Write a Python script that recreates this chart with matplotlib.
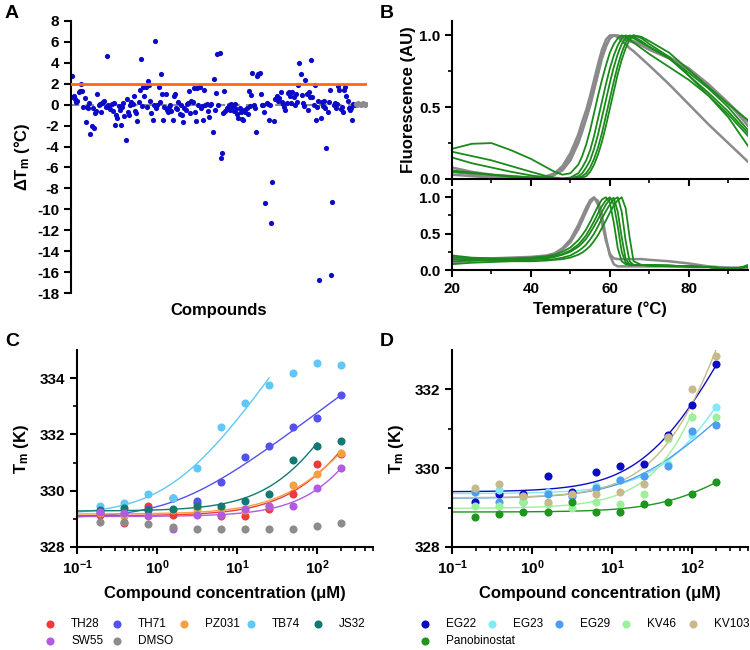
import numpy as np
import matplotlib.pyplot as plt
from matplotlib.ticker import FixedLocator, NullFormatter, LogLocator, FixedFormatter

plt.rcParams['font.family'] = ['Liberation Sans', 'DejaVu Sans']
plt.rcParams['font.weight'] = 'bold'
plt.rcParams['axes.labelweight'] = 'bold'
plt.rcParams['axes.unicode_minus'] = False
plt.rcParams['mathtext.fontset'] = 'custom'
plt.rcParams['mathtext.rm'] = 'Liberation Sans:bold'
plt.rcParams['mathtext.bf'] = 'Liberation Sans:bold'
plt.rcParams['mathtext.it'] = 'Liberation Sans:bold'

# ---- panel A: delta Tm of screened compounds ----
dtm = [2.7, 0.7, 0.8, 0.5, 0.3, 0.4, 1.2, 1.3, 2.0, 1.3, -0.2, 0.6, -1.7, -0.2, -0.3, 0.2, -2.8, -2.0,
       -0.3, -2.2, -0.8, -0.6, 1.0, 0.0, 0.1, -0.7, 0.2, 0.3, 0.4, -0.2, 4.7, 0.0, -0.2, -0.4, 0.1,
       -0.6, 0.2, -1.9, -1.0, -1.3, -0.1, -0.5, -1.9, -0.2, 0.2, -1.1, -3.4, 0.5, -0.7, -1.0, 0.0,
       0.3, 0.1, 0.8, -0.6, -0.8, -1.6, 0.3, 1.4, 4.4, -0.1, 1.7, 0.8, 1.7, -0.2, 2.3, 1.9, 0.4,
       -0.8, -1.5, 0.0, 6.1, -0.3, 0.0, 1.7, 0.3, 2.9, 1.0, -1.5, -0.2, 1.0, -0.5, -0.7, -0.2, 0.0,
       -0.6, -1.5, 0.8, 1.0, -0.3, -0.4, 0.3, -0.9, 0.0, -1.0, -1.7, -0.3, -0.5, 0.1, 0.2, 1.3, -0.8,
       0.4, 0.3, 1.6, -0.7, -1.6, 1.6, 0.0, 1.7, -0.3, -0.1, -1.5, 1.4, 0.0, 0.1, -0.6, -1.2, 0.0,
       0.1, -2.6, 2.5, -0.5, 1.1, 4.8, 0.0, 4.9, -5.1, -4.6, -0.8, 1.3, -0.6, -0.3, -0.4, 0.0, -0.5,
       0.1, -0.2, -0.6, 0.1, -0.4, -0.9, -1.3, -0.3, -0.7, -1.4, -1.5, -0.5, -0.7, -0.3, -0.9, 1.3,
       -0.1, 0.9, 3.0, 0.0, -0.3, -2.6, 2.7, 2.9, 3.0, 1.0, 0.0, 0.0, -0.7, -9.4, 0.2, 0.1, -1.5,
       0.0, -11.3, -7.4, -1.6, 0.5, 0.5, 0.8, 0.4, 0.6, 1.2, 0.3, 0.1, -0.2, -0.5, 0.2, 1.1, 1.2,
       0.8, 0.2, 1.2, 0.7, 0.0, 1.0, 0.3, 1.9, 4.0, 2.9, 0.9, 0.2, -0.1, 2.4, 1.0, -0.5, 1.2, 0.7,
       4.3, 0.7, 0.0, 1.9, -1.5, -0.2, 0.4, -16.8, -1.3, 0.3, -0.1, 0.4, -0.3, -4.1, -0.7, 0.3, 1.4,
       -16.3, -9.3, 0.0, 0.2, -0.3, 0.1, 1.8, 1.4, -0.4, -0.2, -0.7, 1.4, 1.7, 0.8, 0.4, -0.3, -0.5,
       -0.3, -1.5, 0.1, 0.0]
dmso_a = [0.1, 0.0, 0.2, 0.1, 0.0, 0.1, 0.2, 0.1, 0.0, 0.1]
hit_cutoff = 2.0

# ---- panel B: melting curves ----
temp_top = [20, 25, 30, 35, 40, 44, 46, 48, 50, 52, 53, 54, 55, 56, 57, 58, 59, 60, 61, 62, 63, 64,
            65, 66, 68, 70, 75, 80, 85, 90, 95]
top_gray = [
    [.08, .05, .03, .02, .01, .02, .04, .09, .18, .31, .40, .48, .58, .69, .80, .90, .97, 1.0, 1.0, .99,
     .98, .97, .96, .95, .93, .90, .84, .76, .65, .53, .40],
    [.05, .035, .02, .01, .005, .01, .03, .07, .15, .27, .35, .43, .52, .63, .74, .85, .93, .98, 1.0, 1.0,
     .99, .98, .97, .96, .94, .91, .85, .77, .66, .53, .37],
    [.03, .02, .01, .005, 0, .01, .03, .06, .13, .25, .33, .42, .51, .62, .73, .84, .92, .98, 1.0, .99,
     .96, .94, .91, .89, .84, .79, .66, .52, .38, .25, .12],
]
top_green = [
    [.21, .245, .25, .20, .14, .08, .05, .03, .04, .10, .16, .24, .34, .46, .58, .69, .79, .88, .94, .98,
     1.0, .99, .97, .95, .91, .87, .78, .69, .58, .45, .30],
    [.19, .16, .13, .09, .05, .02, .01, .005, .01, .04, .08, .13, .20, .30, .42, .54, .66, .77, .86, .93,
     .98, 1.0, .99, .98, .95, .92, .84, .74, .63, .50, .34],
    [.15, .11, .08, .05, .025, .01, .005, 0, .005, .02, .04, .08, .13, .21, .31, .43, .55, .67, .78, .87,
     .94, .98, 1.0, .99, .96, .92, .84, .72, .60, .47, .32],
    [.06, .045, .03, .02, .01, .005, 0, 0, 0, .01, .02, .04, .08, .14, .22, .32, .44, .56, .68, .79,
     .88, .95, .99, 1.0, .98, .94, .85, .72, .58, .43, .23],
    [.05, .04, .03, .015, .01, 0, 0, 0, 0, .005, .01, .02, .05, .10, .17, .26, .37, .49, .61, .73,
     .83, .91, .97, 1.0, .99, .96, .88, .76, .64, .52, .41],
]

temp_bot = [20, 25, 30, 35, 40, 44, 46, 48, 50, 52, 53, 54, 55, 56, 57, 58, 59, 60, 61, 62, 63, 64,
            65, 66, 68, 70, 75, 80, 85, 90, 93, 95]
bot_gray = [
    [.15, .16, .16, .17, .18, .20, .23, .30, .42, .62, .74, .86, .96, 1.0, .90, .65, .40, .22, .16, .15,
     .15, .15, .15, .15, .15, .14, .12, .09, .05, .03, .03, .03],
    [.10, .13, .15, .16, .17, .19, .22, .28, .38, .56, .68, .80, .92, .99, .95, .75, .45, .20, .08, .05,
     .05, .05, .05, .05, .05, .05, .05, .04, .04, .03, .03, .03],
]
bot_green = [
    [.20, .17, .16, .16, .17, .19, .21, .25, .31, .41, .48, .56, .66, .77, .88, .97, 1.0, .93, .65, .30,
     .12, .08, .07, .07, .07, .07, .06, .05, .04, .02, .03, .07],
    [.18, .16, .15, .15, .16, .17, .19, .22, .27, .35, .41, .48, .57, .67, .78, .88, .96, 1.0, .90, .60,
     .25, .10, .08, .07, .07, .07, .06, .05, .04, .02, .03, .06],
    [.12, .13, .13, .14, .15, .16, .18, .21, .25, .32, .37, .43, .51, .60, .70, .80, .90, .97, .99, .80,
     .45, .15, .08, .07, .07, .06, .06, .05, .04, .02, .03, .05],
    [.15, .14, .13, .13, .13, .14, .15, .17, .20, .26, .30, .35, .42, .50, .60, .71, .81, .90, .97, 1.0,
     .80, .40, .12, .07, .07, .06, .06, .05, .04, .02, .03, .05],
    [.08, .10, .11, .12, .12, .13, .14, .15, .17, .21, .24, .28, .33, .40, .48, .58, .68, .79, .89, .96,
     1.0, .85, .45, .12, .07, .06, .05, .05, .04, .02, .03, .05],
]

# ---- panels C and D: Tm vs compound concentration ----
conc = [0.195, 0.39, 0.78, 1.5625, 3.125, 6.25, 12.5, 25, 50, 100, 200]

c_names = ['TH28', 'TH71', 'PZ031', 'TB74', 'JS32', 'SW55', 'DMSO']
c_colors = ['#f03a3a', '#5252ec', '#f7a040', '#5fc8f5', '#127a72', '#b25ae2', '#8c8c8c']
c_tm = [
    [329.15, 328.85, 329.45, 329.15, 329.55, 329.10, 329.10, 329.35, 329.90, 330.95, 331.30],
    [329.20, 329.15, 329.35, 329.75, 329.65, 330.30, 331.20, 331.60, 332.25, 332.60, 333.40],
    [329.20, 329.10, 329.15, 329.30, 329.35, 329.35, 329.30, 329.45, 330.20, 330.60, 331.35],
    [329.45, 329.55, 329.90, 329.75, 330.80, 332.25, 333.10, 333.75, 334.20, 334.55, 334.45],
    [329.30, 329.40, 329.30, 329.35, 329.45, 329.45, 329.65, 329.90, 331.10, 331.60, 331.75],
    [329.25, 329.20, 329.10, 328.65, 329.15, 329.15, 329.35, 329.45, 329.45, 330.10, 330.80],
    [328.90, 328.90, 328.80, 328.70, 328.65, 328.65, 328.65, 328.65, 328.65, 328.75, 328.85],
]
c_fit_upto = [200, 200, 200, 25, 100, 200, None]

d_names = ['EG22', 'EG23', 'EG29', 'KV46', 'KV103', 'Panobinostat']
d_colors = ['#0c0cc2', '#80eaf5', '#4d9ef0', '#9cf09c', '#c8b98a', '#1c961c']
d_tm = [
    [329.15, 329.35, 329.35, 329.80, 329.40, 329.90, 330.05, 330.10, 330.85, 331.60, 332.65],
    [329.40, 329.45, 329.25, 329.40, 329.30, 329.55, 329.70, 329.80, 330.10, 330.85, 331.55],
    [329.40, 329.15, 329.15, 329.35, 329.30, 329.50, 329.70, 329.80, 330.05, 330.95, 331.10],
    [329.05, 329.05, 329.15, 329.10, 329.00, 329.15, 329.10, 329.35, 330.75, 331.30, 331.30],
    [329.50, 329.60, 329.30, 329.15, 329.35, 329.35, 329.40, 329.60, 330.80, 332.00, 332.85],
    [328.75, 328.85, 328.90, 328.90, 329.15, 328.90, 328.90, 329.10, 329.15, 329.35, 329.65],
]
d_fit_upto = [200, 200, 200, 100, 200, 200]


def fit_shift(c, t):
    # Tm = T0 + A*ln(1 + c/K), K by grid search, T0/A by least squares
    c = np.asarray(c, float)
    t = np.asarray(t, float)
    best = None
    for K in np.logspace(-1, 4, 500):
        X = np.column_stack([np.ones_like(c), np.log1p(c / K)])
        coef = np.linalg.lstsq(X, t, rcond=None)[0]
        err = np.sum((X @ coef - t) ** 2)
        if best is None or err < best[0]:
            best = (err, K, coef)
    return best[1], best[2]


def style_axes(ax, lw=1.5):
    for s in ['top', 'right']:
        ax.spines[s].set_visible(False)
    for s in ['left', 'bottom']:
        ax.spines[s].set_linewidth(lw)
    ax.tick_params(which='major', length=5, width=lw, labelsize=11)
    ax.tick_params(which='minor', length=3, width=1.2)


fig = plt.figure(figsize=(7.5, 6.5), dpi=100)
W, H = 750, 650


def box(x0, y0, x1, y1):
    return [x0 / W, 1 - y1 / H, (x1 - x0) / W, (y1 - y0) / H]


# panel A
axA = fig.add_axes(box(71, 21, 367, 293))
n = len(dtm)
xa = np.arange(n)
xd = np.arange(n, n + len(dmso_a))
axA.axhline(0, color='#8c8c8c', lw=1.5, ls=(0, (4, 3)), zorder=1)
axA.axhline(hit_cutoff, color='#ff6a10', lw=2, zorder=3)
axA.scatter(xa, dtm, s=14, color='#0a0ac8', lw=0, zorder=2)
axA.scatter(xd, dmso_a, s=14, color='#8c8c8c', lw=0, zorder=2)
axA.set_xlim(-0.5, n + len(dmso_a) - 0.5)
axA.set_ylim(-18, 8)
axA.set_yticks(np.arange(-18, 9, 2))
style_axes(axA)
axA.spines['bottom'].set_visible(False)
axA.set_xticks([])
axA.set_ylabel('ΔT$_\\mathregular{m}$ (°C)', fontsize=12, labelpad=4)
fig.text(219 / W, 1 - 310 / H, 'Compounds', ha='center', va='center', fontsize=12, fontweight='bold')

# panel B
axB1 = fig.add_axes(box(452, 21, 748, 179))
axB2 = fig.add_axes(box(452, 190, 748, 270))
for t in top_gray:
    axB1.plot(temp_top, t, color='#8a8a8a', lw=1.8)
for t in top_green:
    axB1.plot(temp_top, t, color='#1a8a1a', lw=1.3)
for t in bot_gray:
    axB2.plot(temp_bot, t, color='#8a8a8a', lw=1.8)
for t in bot_green:
    axB2.plot(temp_bot, t, color='#1a8a1a', lw=1.3)
for ax in [axB1, axB2]:
    ax.set_xlim(20, 95)
    ax.set_ylim(0, 1.1)
    style_axes(ax)
    ax.set_xticks([20, 40, 60, 80])
    ax.xaxis.set_minor_locator(FixedLocator([30, 50, 70, 90]))
    ax.set_yticks([0, 0.5, 1.0])
    ax.set_yticklabels(['0.0', '0.5', '1.0'])
    ax.yaxis.set_minor_locator(FixedLocator([0.25, 0.75]))
axB1.set_xticklabels([])
axB2.set_xlabel('Temperature (°C)', fontsize=12, labelpad=4)
fig.text(409 / W, 1 - 100 / H, 'Fluorescence (AU)', rotation=90, ha='center', va='center',
         fontsize=12, fontweight='bold')


def dose_panel(ax, names, colors, data, fit_upto, ylim, yticks):
    handles = []
    for name, col, tm, up in zip(names, colors, data, fit_upto):
        handles.append(ax.scatter(conc, tm, s=34, color=col, lw=0, zorder=3, label=name))
        if up is not None:
            sel = [i for i, c in enumerate(conc) if c <= up]
            K, coef = fit_shift([conc[i] for i in sel], [tm[i] for i in sel])
            xs = np.logspace(-1, np.log10(up), 200)
            ax.plot(xs, coef[0] + coef[1] * np.log1p(xs / K), color=col, lw=1.0, zorder=2)
    ax.set_xscale('log')
    ax.set_xlim(0.1, 500)
    ax.set_ylim(*ylim)
    style_axes(ax)
    ax.set_xticks([0.1, 1, 10, 100])
    ax.xaxis.set_major_formatter(FixedFormatter(['$10^{-1}$', '$10^{0}$', '$10^{1}$', '$10^{2}$']))
    ax.xaxis.set_minor_locator(LogLocator(base=10, subs=np.arange(2, 10)))
    ax.xaxis.set_minor_formatter(NullFormatter())
    ax.set_yticks(yticks)
    ax.yaxis.set_minor_locator(FixedLocator(np.arange(ylim[0] + 1, ylim[1], 2)))
    ax.set_xlabel('Compound concentration (μM)', fontsize=12, labelpad=6)
    ax.set_ylabel('T$_\\mathregular{m}$ (K)', fontsize=12, labelpad=6)
    return handles


def pitch_legend(handles, names, x_first, y_top, pitch=67, ncol=5):
    # one small legend per column so the columns sit at a fixed pitch
    for col in range(ncol):
        idx = list(range(col, len(handles), ncol))
        if not idx:
            continue
        fig.legend([handles[i] for i in idx], [names[i] for i in idx], loc='upper left',
                   bbox_to_anchor=((x_first + col * pitch - 6) / W, 1 - y_top / H),
                   frameon=False, prop={'weight': 'normal', 'size': 8.5}, handletextpad=1.3,
                   handlelength=1, labelspacing=0.45, borderpad=0, borderaxespad=0)


axC = fig.add_axes(box(77, 350, 373, 547))
hc = dose_panel(axC, c_names, c_colors, c_tm, c_fit_upto, (328, 335), [328, 330, 332, 334])
pitch_legend(hc, c_names, 50, 618)

axD = fig.add_axes(box(452, 350, 748, 547))
hd = dose_panel(axD, d_names, d_colors, d_tm, d_fit_upto, (328, 333), [328, 330, 332])
pitch_legend(hd, d_names, 425, 618)

for lab, x, y in [('A', 5, 14), ('B', 380, 14), ('C', 5, 342), ('D', 380, 342)]:
    fig.text(x / W, 1 - y / H, lab, fontsize=14, fontweight='bold', ha='left', va='center')

fig.savefig('out.png', dpi=100)
